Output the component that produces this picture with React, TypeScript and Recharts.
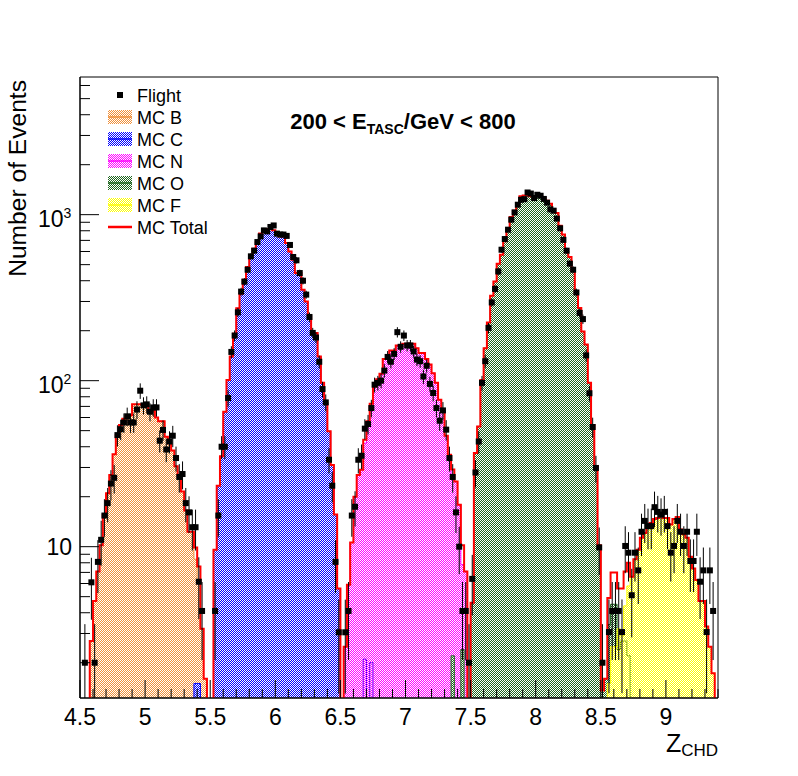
import { ComposedChart, Area, Line, Scatter, ErrorBar, XAxis, YAxis, ReferenceArea } from 'recharts';

const FONT = '"Liberation Sans", Arial, Helvetica, sans-serif';

// binning of the histograms
const BIN_LO = 4.5;
const BIN_W = 0.025;
const N_BINS = 196;
const X_MIN = 4.5;
const X_MAX = 9.4;
const Y_MIN = 1.226;
const Y_MAX = 6750;
const FLOOR = 0.01; // empty bins, drawn below the frame

// MC components, each starts at its own bin index
const mcBStart = 3;
const mcB = [2.7, 4.7, 7.1, 10.2, 15.5, 21, 27, 36, 47, 54, 59, 61, 62, 72, 72, 72, 71, 70, 66, 66, 60, 57, 57, 46, 42, 38, 30.5, 26.3, 21.5, 16.5, 12.3, 12.3, 8.4, 6.1, 3.2, 1.6];

const mcCStart = 35;
const mcC = [1.5, 1.5, 0, 0, 0, 0,
  9.6, 23.3, 35, 65, 101, 140, 192, 273, 334, 406, 484, 561, 624, 681, 769, 793, 820, 820, 806, 770,
  740, 740, 676, 601, 536, 445, 445, 353, 300, 244, 194, 194, 140, 97, 73, 49.5, 31, 15.6, 5.6,
  0, 0, 0, 0, 0, 0, 0, 2.1, 0, 2.0];

const mcNStart = 81;
const mcN = [2.5, 5.9, 10.6, 20, 27, 29.1, 42, 56.9, 70.7, 92.4, 102, 110, 135, 135, 152, 152, 163, 163, 167, 167,
  167, 167, 157, 147, 147, 135, 125, 111, 97, 76.8, 66.9, 46.6, 35.8, 27, 24.7, 17.9, 7.8, 7.1];

const mcOStart = 114;
const mcO = [2.2, 0, 0, 2.4, 0, 0,
  4.6, 36.7, 53, 101, 157, 224, 325, 396, 507, 574, 691, 812, 968, 1057, 1175, 1289, 1305, 1305, 1289, 1289,
  1289, 1289, 1259, 1213, 1164, 1082, 1024, 859, 759, 593, 556, 462, 337, 274, 198, 165, 97, 54, 30.5, 10.2,
  1.36, 1.6, 3.4, 4.5, 4.5, 2.4, 2.7, 2.7, 2.2];

const mcFStart = 162;
const mcF = [1.5, 2.5, 2.5, 3.2, 2.9, 4.4, 5.8, 6.6, 8.4, 9.6, 11.3, 12.1, 13.3, 13.9, 14.7, 14.9, 15.4, 14.9,
  14.9, 13.6, 14.7, 15.1, 12.7, 11.9, 11.3, 8.7, 7.4, 6.3, 4.7, 4.7, 3.3, 2.5, 1.73];

// flight data, counts per bin
const flightStart = 1;
const flight = [
  2, 0, 6.1, 2, 8.1, 11, 15.4, 18.3, 24, 26, 47, 51, 56, 61, 56, 56, 67, 87, 71, 72,
  65, 69, 69, 43.5, 50.5, 38.5, 43, 46.6, 34.2, 26.3, 27.4, 18.3, 16.1, 13.1, 13.1, 6.15, 4.1, 0, 0, 0,
  4.1, 15.4, 40, 40, 78.6, 149, 187, 258, 344, 395, 466, 561, 607, 684, 740, 804, 793, 843, 861, 769,
  759, 759, 745, 657, 556, 531, 445, 400, 330, 242, 194, 182, 130, 89, 74, 33.4, 23.3, 8.1, 3.05, 0,
  3.05, 4.1, 15.4, 17.4, 33.4, 35.3, 51.4, 54.8, 68.4, 94.6, 97, 100, 115, 139, 130, 145, 196, 160, 187, 163,
  163, 150, 134, 131, 106, 123, 95.6, 84.3, 68.4, 57.4, 66.2, 50.7, 34.2, 26.3, 16.1, 10, 4.1, 4.1, 2,
  6.4, 28, 43, 97, 131, 208, 296, 357, 455, 615, 713, 812, 933, 1032, 1148, 1230, 1240, 1360, 1340, 1259,
  1318, 1300, 1244, 1181, 1077, 1057, 947, 828, 705, 607, 507, 466, 340, 256, 235, 142, 84, 52.6, 29.8, 9.9,
  2, 0, 3.06, 4.1, 4.1, 4.1, 3.06, 10.1, 9.2, 5.1, 9.2, 7.2, 12.3, 14.3, 13.3, 13.3, 17.3, 16.2, 15.6, 16.2,
  13.3, 9.2, 10.1, 14.3, 12.3, 10.1, 12.3, 8.2, 8.2, 12.3, 6.15, 7.2, 3.06, 7.2, 4.1,
];

const xTicks = [
  4.5, 4.6, 4.7, 4.8, 4.9, 5, 5.1, 5.2, 5.3, 5.4, 5.5, 5.6, 5.7, 5.8, 5.9, 6, 6.1, 6.2, 6.3, 6.4,
  6.5, 6.6, 6.7, 6.8, 6.9, 7, 7.1, 7.2, 7.3, 7.4, 7.5, 7.6, 7.7, 7.8, 7.9, 8, 8.1, 8.2, 8.3, 8.4,
  8.5, 8.6, 8.7, 8.8, 8.9, 9, 9.1, 9.2, 9.3, 9.4,
];
const yTicks = [
  2, 3, 4, 5, 6, 7, 8, 9, 10, 20, 30, 40, 50, 60, 70, 80, 90, 100,
  200, 300, 400, 500, 600, 700, 800, 900, 1000, 2000, 3000, 4000, 5000, 6000,
];
const yExponents: Record<number, string> = { 10: '', 100: '2', 1000: '3' };

const components = [
  { key: 'B', name: 'MC B', color: '#f0903a', values: mcB, start: mcBStart },
  { key: 'C', name: 'MC C', color: '#0000ff', values: mcC, start: mcCStart },
  { key: 'N', name: 'MC N', color: '#ff00ff', values: mcN, start: mcNStart },
  { key: 'O', name: 'MC O', color: '#1f661f', values: mcO, start: mcOStart },
  { key: 'F', name: 'MC F', color: '#ffff00', values: mcF, start: mcFStart },
];

const pick = (arr: number[], start: number, k: number) =>
  k >= start && k < start + arr.length ? arr[k - start] : 0;

const rows = Array.from({ length: N_BINS }, (_, k) => {
  const row: Record<string, number> = { x: BIN_LO + BIN_W * (k + 0.5) };
  let total = 0;
  components.forEach((c) => {
    const v = pick(c.values, c.start, k);
    total += v;
    row[c.key] = v > 0 ? v : FLOOR;
  });
  row.total = total > 0 ? total : FLOOR;
  return row;
});

const flightRows = flight
  .map((v, i) => ({ x: BIN_LO + BIN_W * (flightStart + i + 0.5), flight: v }))
  .filter((d) => d.flight > 0)
  .map((d) => {
    const s = Math.sqrt(d.flight);
    return { ...d, err: [Math.min(s, d.flight - Y_MIN), s] };
  });

// 1px checker hatch, coloured pixels on the odd diagonal
function Patterns({ prefix }: { prefix: string }) {
  return (
    <defs>
      {components.map((c) => (
        <pattern key={c.key} id={`${prefix}${c.key}`} width={2} height={2} patternUnits="userSpaceOnUse">
          <rect x={1} y={0} width={1} height={1} fill={c.color} shapeRendering="crispEdges" />
          <rect x={0} y={1} width={1} height={1} fill={c.color} shapeRendering="crispEdges" />
        </pattern>
      ))}
    </defs>
  );
}

function XTick({ x, y, payload }: any) {
  const v = payload.value as number;
  const major = Math.abs(v * 2 - Math.round(v * 2)) < 1e-6;
  return (
    <g>
      <line x1={x} x2={x} y1={y} y2={y - (major ? 18 : 9)} stroke="#000" strokeWidth={1} />
      {major && (
        <text x={x} y={y + 26.5} textAnchor="middle" fontSize={23} fontFamily={FONT} fill="#000">
          {String(Math.round(v * 10) / 10)}
        </text>
      )}
    </g>
  );
}

function YTick({ x, y, payload }: any) {
  const v = payload.value as number;
  const exp = yExponents[v];
  const major = exp !== undefined;
  return (
    <g>
      <line x1={x} x2={x + (major ? 19 : 10)} y1={y} y2={y} stroke="#000" strokeWidth={1} />
      {major && exp === '' && (
        <text x={x - 8} y={y + 8.5} textAnchor="end" fontSize={23} fontFamily={FONT} fill="#000">10</text>
      )}
      {major && exp !== '' && (
        <>
          <text x={x - 16.5} y={y + 12.5} textAnchor="end" fontSize={23} fontFamily={FONT} fill="#000">10</text>
          <text x={x - 16.5} y={y + 3} fontSize={14} fontFamily={FONT} fill="#000">{exp}</text>
        </>
      )}
    </g>
  );
}

const legendRows = ['Flight', 'MC B', 'MC C', 'MC N', 'MC O', 'MC F', 'MC Total'];

function Overlay() {
  return (
    <svg width={798} height={776} style={{ position: 'absolute', left: 0, top: 0, pointerEvents: 'none' }}>
      <Patterns prefix="lg-" />
      <text x={403} y={129} textAnchor="middle" fontSize={22} fontWeight="bold" fontFamily={FONT} fill="#000">
        200 &lt; E<tspan fontSize={14} dy={5}>TASC</tspan><tspan dy={-5}>/GeV &lt; 800</tspan>
      </text>
      <text transform="rotate(-90)" x={-80} y={25.5} textAnchor="end" fontSize={24.6} fontFamily={FONT} fill="#000">
        Number of Events
      </text>
      <text x={718} y={752} textAnchor="end" fontSize={25} fontFamily={FONT} fill="#000">
        Z<tspan fontSize={17} dy={4}>CHD</tspan>
      </text>
      {legendRows.map((label, i) => {
        const cy = 95 + 22 * i;
        const comp = components.find((c) => c.name === label);
        return (
          <g key={label}>
            {label === 'Flight' && <rect x={117} y={cy - 3} width={6} height={6} fill="#000" />}
            {comp && (
              <>
                <rect x={108} y={cy - 7} width={24} height={14} fill={`url(#lg-${comp.key})`} />
                <line x1={108} x2={132} y1={cy} y2={cy} stroke={comp.color} strokeWidth={1.5} />
              </>
            )}
            {label === 'MC Total' && <line x1={108} x2={132} y1={cy} y2={cy} stroke="#ff0000" strokeWidth={2.5} />}
            <text x={137} y={cy + 6.5} fontSize={18} fontFamily={FONT} fill="#000">{label}</text>
          </g>
        );
      })}
    </svg>
  );
}

export default function App() {
  return (
    <div style={{ position: 'absolute', left: 0, top: 0, width: 798, height: 776, background: '#fff' }}>
      <ComposedChart width={798} height={776} data={rows} margin={{ top: 77, right: 80, bottom: 0, left: 0 }}>
        <Patterns prefix="pt-" />
        <XAxis
          dataKey="x"
          type="number"
          domain={[X_MIN, X_MAX]}
          allowDataOverflow
          ticks={xTicks}
          interval={0}
          height={78}
          tickSize={0}
          tickMargin={0}
          tickLine={false}
          axisLine={{ stroke: '#000' }}
          tick={(p: any) => <XTick {...p} />}
        />
        <YAxis
          type="number"
          scale="log"
          domain={[Y_MIN, Y_MAX]}
          allowDataOverflow
          ticks={yTicks}
          interval={0}
          width={80}
          tickSize={0}
          tickMargin={0}
          tickLine={false}
          axisLine={{ stroke: '#000' }}
          tick={(p: any) => <YTick {...p} />}
        />
        {components.map((c) => (
          <Area
            key={c.key}
            dataKey={c.key}
            name={c.name}
            type="step"
            baseValue={Y_MIN}
            stroke={c.color}
            strokeWidth={1}
            fill={`url(#pt-${c.key})`}
            fillOpacity={1}
            dot={false}
            activeDot={false}
            isAnimationActive={false}
          />
        ))}
        <Line
          dataKey="total"
          name="MC Total"
          type="step"
          stroke="#ff0000"
          strokeWidth={2}
          dot={false}
          activeDot={false}
          isAnimationActive={false}
        />
        <Scatter
          data={flightRows}
          dataKey="flight"
          name="Flight"
          isAnimationActive={false}
          shape={(p: any) => <rect x={p.cx - 3} y={p.cy - 3} width={6} height={6} fill="#000" />}
        >
          <ErrorBar dataKey="err" direction="y" width={0} stroke="#000" strokeWidth={1} isAnimationActive={false} />
        </Scatter>
        <ReferenceArea x1={X_MIN} x2={X_MAX} y1={Y_MIN} y2={Y_MAX} fill="none" stroke="#000" strokeWidth={1} />
      </ComposedChart>
      <Overlay />
    </div>
  );
}
